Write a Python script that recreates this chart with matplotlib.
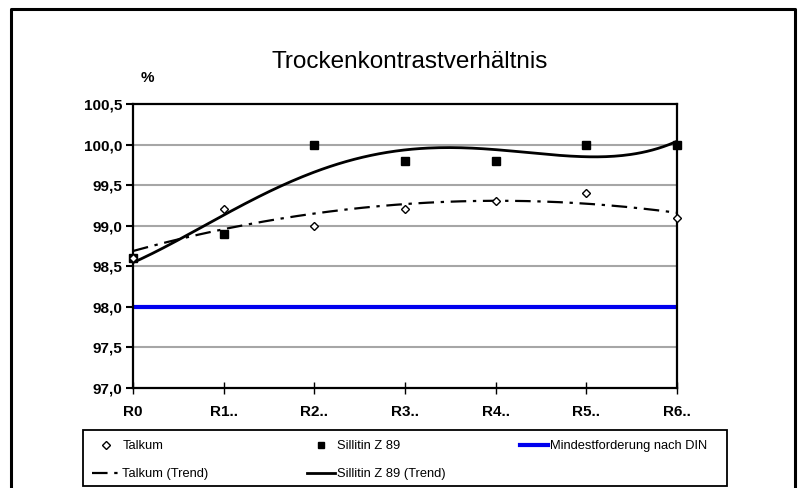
import numpy as np
import matplotlib
matplotlib.use("Agg")
import matplotlib.pyplot as plt
from matplotlib.lines import Line2D
from matplotlib.patches import Rectangle
from matplotlib.ticker import FuncFormatter

plt.rcParams['font.family'] = ['Liberation Sans', 'DejaVu Sans']

# data
categories = ["R0", "R1..", "R2..", "R3..", "R4..", "R5..", "R6.."]
talkum = [98.6, 99.2, 99.0, 99.2, 99.3, 99.4, 99.1]
sillitin = [98.6, 98.9, 100.0, 99.8, 99.8, 100.0, 100.0]
din_min = 98.0

x = np.arange(len(categories))

# polynomial trend lines, like the spreadsheet trendline
xs = np.linspace(0, len(categories) - 1, 200)
talkum_trend = np.polyval(np.polyfit(x, talkum, 2), xs)
sillitin_trend = np.polyval(np.polyfit(x, sillitin, 4), xs)

fig = plt.figure(figsize=(8, 4.88), dpi=100)

# pixel -> figure fraction helpers
W, H = 800, 488
fx = lambda px: px / W
fy = lambda py: 1 - py / H

# outer frame (left, top, right)
fig.add_artist(Line2D([fx(11), fx(11), fx(795), fx(795)],
                      [fy(490), fy(9), fy(9), fy(490)],
                      color='black', lw=2.2, transform=fig.transFigure))

ax = fig.add_axes([133 / W, 1 - 388 / H, (677 - 133) / W, (388 - 104) / H])

ax.set_xlim(0, 6)
ax.set_ylim(97.0, 100.5)
ax.set_yticks(np.arange(97.0, 100.51, 0.5))
ax.yaxis.set_major_formatter(FuncFormatter(lambda v, p: f"{v:.1f}".replace('.', ',')))
ax.set_xticks(x)
ax.set_xticklabels(categories)

for v in np.arange(97.5, 100.5, 0.5):
    ax.axhline(v, color='#a6a6a6', lw=1.5, zorder=1)

ax.axhline(din_min, color='#0000ee', lw=3, zorder=2)

ax.plot(xs, sillitin_trend, color='black', lw=2, zorder=3)
ax.plot(xs, talkum_trend, color='black', lw=1.6, linestyle=(0, (7, 3, 1.5, 3)), zorder=3)

ax.plot(x, sillitin, linestyle='none', marker='s', ms=5.5, color='black', zorder=4, clip_on=False)
ax.plot(x, talkum, linestyle='none', marker='D', ms=3.6, mfc='white', mec='black', mew=1, zorder=4,
        clip_on=False)

for s in ax.spines.values():
    s.set_color('black')
    s.set_linewidth(1.6)

ax.tick_params(axis='y', direction='out', length=5, width=1.5, pad=3, labelsize=11)
ax.tick_params(axis='x', direction='inout', length=8, width=1, pad=8, labelsize=11)
for lab in ax.get_xticklabels() + ax.get_yticklabels():
    lab.set_fontweight('bold')

fig.text(fx(410), fy(62), "Trockenkontrastverhältnis", ha='center', va='center', fontsize=17.5)
fig.text(fx(147), fy(78), "%", ha='center', va='center', fontsize=11, fontweight='bold')

# legend box
fig.add_artist(Rectangle((fx(83), fy(486)), fx(727) - fx(83), fy(430) - fy(486),
                         transform=fig.transFigure, fill=False, edgecolor='black', lw=1.3))

# legend, one column at a time
columns = [
    ([Line2D([], [], linestyle='none', marker='D', ms=3.6, mfc='white', mec='black'),
      Line2D([], [], color='black', lw=1.6, linestyle=(0, (7, 3, 1.5, 3)))],
     ["Talkum", "Talkum (Trend)"], 92),
    ([Line2D([], [], linestyle='none', marker='s', ms=5, color='black'),
      Line2D([], [], color='black', lw=2)],
     ["Sillitin Z 89", "Sillitin Z 89 (Trend)"], 307),
    ([Line2D([], [], color='#0000ee', lw=3)],
     ["Mindestforderung nach DIN"], 520),
]
for hs, ls, px in columns:
    leg = fig.legend(hs, ls, loc='upper left', bbox_to_anchor=(fx(px), fy(440)),
                     fontsize=9.3, frameon=False, borderaxespad=0, borderpad=0,
                     handlelength=2.2, handletextpad=0.15, labelspacing=1.25)

fig.savefig("out.png", dpi=100)
